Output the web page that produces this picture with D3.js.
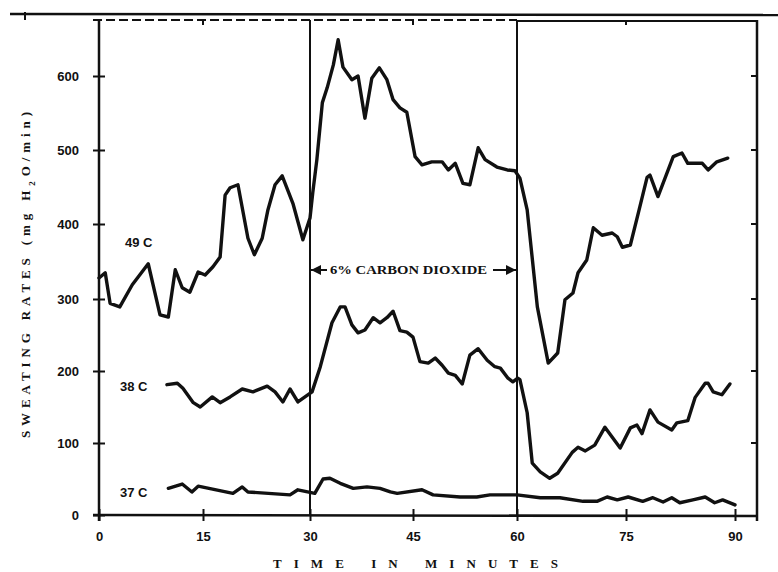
<!DOCTYPE html>
<html>
<head>
<meta charset="utf-8">
<script src="https://cdn.jsdelivr.net/npm/d3@7/dist/d3.min.js"></script>
<style>
  html, body { margin: 0; padding: 0; background: #fff; }
  svg { display: block; }
  .lbl { font-family: "Liberation Sans", Arial, sans-serif; font-weight: bold; fill: #111; }
  .ttl { font-family: "Liberation Serif", "DejaVu Serif", serif; font-weight: bold; fill: #111; }
</style>
</head>
<body>
<svg id="chart" width="778" height="572"></svg>
<script>
// Sweating rate (mg H2O/min) against time (minutes) at three ambient temperatures
const time49 = [0, 0.9, 1.6, 3.0, 4.8, 7.1, 8.8, 10.0, 11.0, 12.0, 13.1, 14.3, 15.3, 16.4, 17.4, 18.1, 18.8, 19.9, 21.3, 22.2,
  23.3, 24.1, 25.1, 26.1, 27.6, 29.0, 30.0, 30.4, 31.0, 31.8, 32.5, 33.4, 34.1, 34.8, 36.1, 37.0, 38.0, 39.0, 40.1, 41.2,
  42.1, 43.1, 44.1, 45.3, 46.3, 47.7, 49.2, 50.1, 51.1, 52.2, 53.2, 54.4, 55.4, 57.1, 58.6, 59.7, 60.4, 61.4, 62.8, 64.3,
  65.6, 66.6, 67.7, 68.4, 69.6, 70.5, 71.7, 73.1, 73.8, 74.5, 75.6, 76.7, 77.9, 78.3, 79.4, 81.5, 82.7, 83.5, 85.5, 86.3,
  87.5, 89.0];
const rate49 = [328, 335, 294, 289, 319, 347, 278, 275, 339, 315, 309, 336, 332, 343, 356, 439, 449, 453, 381, 359,
  381, 419, 453, 465, 428, 379, 408, 442, 487, 564, 584, 615, 649, 612, 595, 600, 543, 597, 611, 595,
  568, 557, 551, 491, 480, 484, 484, 473, 482, 455, 453, 503, 487, 477, 473, 472, 462, 419, 289, 211,
  225, 299, 308, 335, 352, 395, 385, 388, 383, 369, 372, 415, 463, 466, 437, 491, 496, 482, 482, 473,
  484, 489];

const time38 = [9.8, 11.3, 12.1, 13.6, 14.6, 16.3, 17.4, 18.8, 20.5, 22.0, 24.0, 25.1, 26.2, 27.2, 28.3, 30.3, 31.5, 33.2, 34.4, 35.1,
  36.1, 37.0, 38.0, 39.2, 40.2, 41.2, 42.1, 43.1, 44.1, 45.0, 46.0, 47.2, 48.2, 49.2, 50.1, 51.1, 52.1, 53.2, 54.4, 55.7,
  56.8, 57.6, 58.7, 59.4, 60.1, 60.4, 61.4, 62.1, 63.2, 64.5, 65.6, 67.6, 68.4, 69.4, 70.7, 72.1, 74.2, 75.6, 76.5, 77.2,
  78.3, 79.4, 81.3, 82.0, 83.5, 84.5, 85.9, 86.3, 87.0, 88.2, 89.3];
const rate38 = [181, 183, 176, 156, 150, 164, 156, 164, 175, 171, 179, 171, 157, 175, 157, 171, 206, 267, 289, 289,
  264, 253, 257, 274, 267, 274, 283, 256, 254, 247, 213, 211, 218, 208, 197, 194, 182, 222, 231, 215,
  206, 204, 190, 185, 190, 188, 142, 72, 60, 51, 58, 87, 94, 89, 97, 122, 93, 121, 125, 113,
  146, 129, 118, 128, 131, 163, 183, 183, 171, 167, 182];

const time37 = [10.0, 12.0, 13.4, 14.3, 19.2, 20.5, 21.3, 27.2, 28.3, 30.7, 31.9, 32.9, 34.4, 36.3, 38.3, 40.2, 41.7, 42.7, 46.3, 47.9,
  51.8, 54.2, 56.1, 60.0, 63.2, 65.9, 69.1, 71.0, 72.4, 73.8, 75.3, 77.3, 78.7, 80.1, 81.3, 82.4, 84.2, 85.9, 87.2, 88.3, 90.0];
const rate37 = [37, 43, 32, 40, 30, 39, 32, 28, 35, 30, 50, 51, 44, 37, 39, 37, 32, 30, 35, 28,
  25, 25, 28, 28, 24, 24, 19, 19, 25, 21, 25, 19, 24, 18, 24, 17, 21, 25, 17, 21, 14];

const seriesNames = ["49 C", "38 C", "37 C"];
const xTicks = [0, 15, 30, 45, 60, 75, 90];
const yTicks = [0, 100, 200, 300, 400, 500, 600];
const exposureStart = 30, exposureEnd = 60;
const exposureLabel = "6% CARBON DIOXIDE";

const svg = d3.select("#chart");
const ink = "#111";

// The printed grid is slightly uneven, so both scales pass through every printed tick
const x = d3.scaleLinear().domain(xTicks).range([99, 203, 310, 413, 517, 626, 735]);
const y = d3.scaleLinear().domain(yTicks).range([515, 443, 371, 299, 224, 150, 76]);

const plotLeft = 99, plotRight = 757, plotTop = 20, plotBottom = 515;

// Frame: heavy rule along the top of the sheet, the plot top edge and the right edge
svg.append("line").attr("x1", 10).attr("x2", 778).attr("y1", 14).attr("y2", 15)
  .attr("stroke", ink).attr("stroke-width", 2.5);
svg.append("line").attr("x1", 25).attr("x2", 25).attr("y1", 12).attr("y2", 20)
  .attr("stroke", ink).attr("stroke-width", 2);
svg.append("line").attr("x1", 93).attr("x2", x(exposureEnd)).attr("y1", plotTop).attr("y2", plotTop)
  .attr("stroke", ink).attr("stroke-width", 2).attr("stroke-dasharray", "9,4");
svg.append("line").attr("x1", x(exposureEnd)).attr("x2", plotRight).attr("y1", plotTop + 1).attr("y2", plotTop + 1)
  .attr("stroke", ink).attr("stroke-width", 2);
svg.append("line").attr("x1", plotRight).attr("x2", plotRight).attr("y1", plotTop).attr("y2", plotBottom + 6)
  .attr("stroke", ink).attr("stroke-width", 2.5);

// Inward ticks on the top and right edges
svg.selectAll(".ttick").data(xTicks.filter(d => d > 0 && d < 90)).join("line")
  .attr("x1", d => x(d)).attr("x2", d => x(d)).attr("y1", plotTop).attr("y2", plotTop + 5)
  .attr("stroke", ink).attr("stroke-width", 2);
svg.selectAll(".rtick").data(yTicks.filter(d => d > 0)).join("line")
  .attr("x1", plotRight - 6).attr("x2", plotRight).attr("y1", d => y(d)).attr("y2", d => y(d))
  .attr("stroke", ink).attr("stroke-width", 2);

// Left axis with cross ticks
const yAxis = svg.append("g").attr("transform", `translate(${plotLeft},0)`)
  .call(d3.axisLeft(y).tickValues(yTicks).tickSize(6).tickPadding(14).tickFormat(d3.format("d")));
yAxis.select(".domain").remove();
yAxis.selectAll(".tick line").attr("x1", -6).attr("x2", 6).attr("stroke", ink).attr("stroke-width", 2);
yAxis.selectAll(".tick text").attr("class", "lbl").style("font-size", "13px").attr("dy", "0.35em");
svg.append("line").attr("x1", plotLeft).attr("x2", plotLeft).attr("y1", plotTop).attr("y2", plotBottom + 6)
  .attr("stroke", ink).attr("stroke-width", 2.5);

// Bottom axis with cross ticks
const xAxis = svg.append("g").attr("transform", `translate(0,${plotBottom})`)
  .call(d3.axisBottom(x).tickValues(xTicks).tickSize(6).tickPadding(11).tickFormat(d3.format("d")));
xAxis.select(".domain").remove();
xAxis.selectAll(".tick line").attr("y1", -6).attr("y2", 6).attr("stroke", ink).attr("stroke-width", 2);
xAxis.selectAll(".tick text").attr("class", "lbl").style("font-size", "13px");
svg.append("line").attr("x1", 93).attr("x2", plotRight).attr("y1", plotBottom).attr("y2", plotBottom + 1)
  .attr("stroke", ink).attr("stroke-width", 2.5);

// Start and end of the carbon dioxide exposure
[exposureStart, exposureEnd].forEach(t => {
  svg.append("line").attr("x1", x(t)).attr("x2", x(t)).attr("y1", plotTop).attr("y2", plotBottom)
    .attr("stroke", ink).attr("stroke-width", 2);
});

// Curves
const line = d3.line().x(d => x(d[0])).y(d => y(d[1])).curve(d3.curveLinear);
const curves = [d3.zip(time49, rate49), d3.zip(time38, rate38), d3.zip(time37, rate37)];
svg.selectAll(".curve").data(curves).join("path")
  .attr("class", "curve")
  .attr("d", line)
  .attr("fill", "none").attr("stroke", ink).attr("stroke-width", 3.4)
  .attr("stroke-linejoin", "round").attr("stroke-linecap", "round");

// Curve labels
const labelPos = [[125, 375], [120, 178], [120, 31]];
svg.selectAll(".clabel").data(seriesNames).join("text")
  .attr("class", "lbl")
  .attr("x", (d, i) => labelPos[i][0])
  .attr("y", (d, i) => y(labelPos[i][1]))
  .attr("dy", "0.35em")
  .style("font-size", "13px")
  .text(d => d);

// Exposure annotation with arrows to both boundaries
const annY = 270;
const defs = svg.append("defs");
defs.append("marker").attr("id", "arrow").attr("viewBox", "0 0 10 10")
  .attr("refX", 10).attr("refY", 5).attr("markerWidth", 5).attr("markerHeight", 5)
  .attr("orient", "auto-start-reverse")
  .append("path").attr("d", "M0,0 L10,5 L0,10 Z").attr("fill", ink);
svg.append("line").attr("x1", x(exposureStart) + 17).attr("x2", x(exposureStart) + 1)
  .attr("y1", annY).attr("y2", annY).attr("stroke", ink).attr("stroke-width", 2)
  .attr("marker-end", "url(#arrow)");
svg.append("line").attr("x1", x(exposureEnd) - 24).attr("x2", x(exposureEnd) - 1)
  .attr("y1", annY).attr("y2", annY).attr("stroke", ink).attr("stroke-width", 2)
  .attr("marker-end", "url(#arrow)");
svg.append("text").attr("class", "ttl")
  .attr("x", 330).attr("y", annY).attr("dy", "0.35em")
  .attr("textLength", 157).attr("lengthAdjust", "spacingAndGlyphs")
  .style("font-size", "12px")
  .text(exposureLabel);

// Axis titles
svg.append("text").attr("class", "ttl")
  .attr("x", 273).attr("y", 563).attr("dy", "0.35em")
  .attr("textLength", 285).attr("lengthAdjust", "spacing")
  .style("font-size", "13px")
  .text("TIME IN MINUTES");

const yTitle = svg.append("text").attr("class", "ttl")
  .attr("transform", "translate(25,438) rotate(-90)")
  .attr("dy", "0.35em")
  .attr("textLength", 326).attr("lengthAdjust", "spacing")
  .style("font-size", "13px");
yTitle.append("tspan").text("SWEATING RATES (mg H");
yTitle.append("tspan").attr("baseline-shift", "sub").style("font-size", "9px").text("2");
yTitle.append("tspan").text("O/min)");
</script>
</body>
</html>
